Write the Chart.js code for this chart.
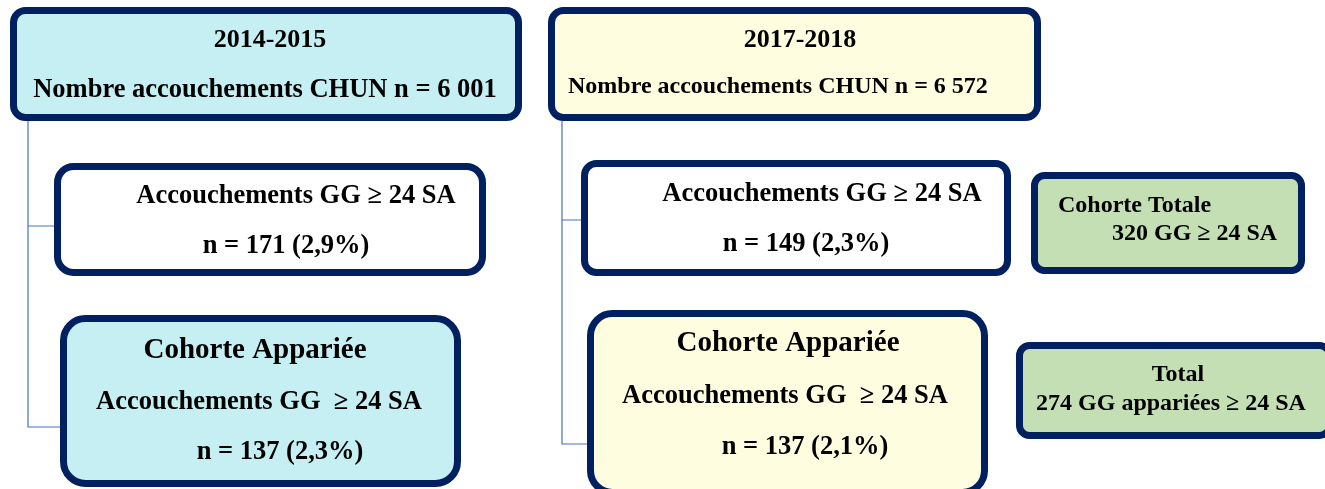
<!DOCTYPE html>
<html>
<head>
<meta charset="utf-8">
<script src="https://cdn.jsdelivr.net/npm/chart.js@4.4.1/dist/chart.umd.min.js"></script>
<style>
    html, body { margin: 0; padding: 0; background: #ffffff; }
    #wrap { width: 1325px; height: 489px; position: relative; }
</style>
</head>
<body>
<div id="wrap"><canvas id="flow"></canvas></div>
<script>
// chart values
const periods = ["2014-2015", "2017-2018"];
const totalBirths = ["6 001", "6 572"];
const ggBirths = [171, 149];
const ggPercent = ["2,9", "2,3"];
const matchedBirths = [137, 137];
const matchedPercent = ["2,3", "2,1"];
const totalCohort = 320;
const matchedTotal = 274;

const NAVY = "#002060";
const LINK = "#4472c4";
const CYAN = "#c5eff2";
const YELLOW = "#fffde0";
const GREEN = "#c5dfb5";
const FONT = "'Liberation Serif', 'Times New Roman', serif";

// layout: outer box bounds (x0, y0, x1, y1) in canvas units, text anchors
const boxes = [
    {
        rect: [10, 7, 522, 121], radius: 12, fill: CYAN,
        lines: [
            { text: periods[0], x: 270, y: 40, size: 26 },
            { text: `Nombre accouchements CHUN n = ${totalBirths[0]}`, x: 265, y: 90, size: 26.5 }
        ]
    },
    {
        rect: [548, 7, 1041, 121], radius: 12, fill: YELLOW,
        lines: [
            { text: periods[1], x: 800, y: 40, size: 26 },
            { text: `Nombre accouchements CHUN n = ${totalBirths[1]}`, x: 568, y: 87, size: 24, align: "left" }
        ]
    },
    {
        rect: [54, 163, 486, 276], radius: 16, fill: "#ffffff",
        lines: [
            { text: "Accouchements GG \u2265 24 SA", x: 296, y: 196, size: 26.5 },
            { text: `n = ${ggBirths[0]} (${ggPercent[0]}%)`, x: 286, y: 246, size: 26.5 }
        ]
    },
    {
        rect: [60, 315, 461, 487], radius: 22, fill: CYAN,
        lines: [
            { text: "Cohorte Appariée", x: 255, y: 351, size: 29 },
            { text: "Accouchements GG  \u2265 24 SA", x: 259, y: 402, size: 26.5 },
            { text: `n = ${matchedBirths[0]} (${matchedPercent[0]}%)`, x: 280, y: 452, size: 26.5 }
        ]
    },
    {
        rect: [581, 160, 1011, 276], radius: 12, fill: "#ffffff",
        lines: [
            { text: "Accouchements GG \u2265 24 SA", x: 822, y: 194, size: 26.5 },
            { text: `n = ${ggBirths[1]} (${ggPercent[1]}%)`, x: 806, y: 244, size: 26.5 }
        ]
    },
    {
        rect: [587, 310, 988, 496], radius: 22, fill: YELLOW,
        lines: [
            { text: "Cohorte Appariée", x: 788, y: 344, size: 29 },
            { text: "Accouchements GG  \u2265 24 SA", x: 785, y: 396, size: 26.5 },
            { text: `n = ${matchedBirths[1]} (${matchedPercent[1]}%)`, x: 805, y: 447, size: 26.5 }
        ]
    },
    {
        rect: [1031, 172, 1305, 274], radius: 10, fill: GREEN,
        lines: [
            { text: "Cohorte Totale", x: 1058, y: 206, size: 24, align: "left" },
            { text: `${totalCohort} GG \u2265 24 SA`, x: 1112, y: 234, size: 24, align: "left" }
        ]
    },
    {
        rect: [1016, 342, 1333, 439], radius: 10, fill: GREEN,
        lines: [
            { text: "Total", x: 1178, y: 375, size: 24 },
            { text: `${matchedTotal} GG appariées \u2265 24 SA`, x: 1171, y: 404, size: 24 }
        ]
    }
];

// connector polylines (vertical trunk with branches)
const links = [
    [[57, 226], [28, 226], [28, 121], [28, 427], [63, 427]],
    [[583, 220], [562, 220], [562, 121], [562, 444], [591, 444]]
];

const flowPlugin = {
    id: "flowBoxes",
    afterDraw(chart) {
        const { ctx, scales: { x, y } } = chart;
        const px = v => x.getPixelForValue(v);
        const py = v => y.getPixelForValue(v);
        const lw = 7;

        ctx.save();

        ctx.strokeStyle = LINK;
        ctx.lineWidth = 1.2;
        links.forEach(path => {
            ctx.beginPath();
            path.forEach(([a, b], i) => {
                if (i === 0) {
                    ctx.moveTo(px(a), py(b));
                } else {
                    ctx.lineTo(px(a), py(b));
                }
            });
            ctx.stroke();
        });

        boxes.forEach(box => {
            const [x0, y0, x1, y1] = box.rect;
            const left = px(x0) + lw / 2;
            const top = py(y0) + lw / 2;
            const w = px(x1) - px(x0) - lw;
            const h = py(y1) - py(y0) - lw;

            ctx.beginPath();
            ctx.roundRect(left, top, w, h, box.radius);
            ctx.fillStyle = box.fill;
            ctx.fill();
            ctx.lineWidth = lw;
            ctx.strokeStyle = NAVY;
            ctx.stroke();

            ctx.fillStyle = "#000000";
            ctx.textBaseline = "middle";
            box.lines.forEach(line => {
                ctx.font = `bold ${line.size}px ${FONT}`;
                ctx.textAlign = line.align || "center";
                ctx.fillText(line.text, px(line.x), py(line.y));
            });
        });

        ctx.restore();
    }
};

new Chart(document.getElementById("flow"), {
    type: "scatter",
    data: {
        datasets: [{ data: [] }]
    },
    options: {
        responsive: true,
        maintainAspectRatio: false,
        animation: false,
        layout: { padding: 0 },
        plugins: {
            legend: { display: false },
            tooltip: { enabled: false }
        },
        scales: {
            x: { type: "linear", min: 0, max: 1325, display: false },
            y: { type: "linear", min: 0, max: 489, reverse: true, display: false }
        }
    },
    plugins: [flowPlugin]
});
</script>
</body>
</html>
